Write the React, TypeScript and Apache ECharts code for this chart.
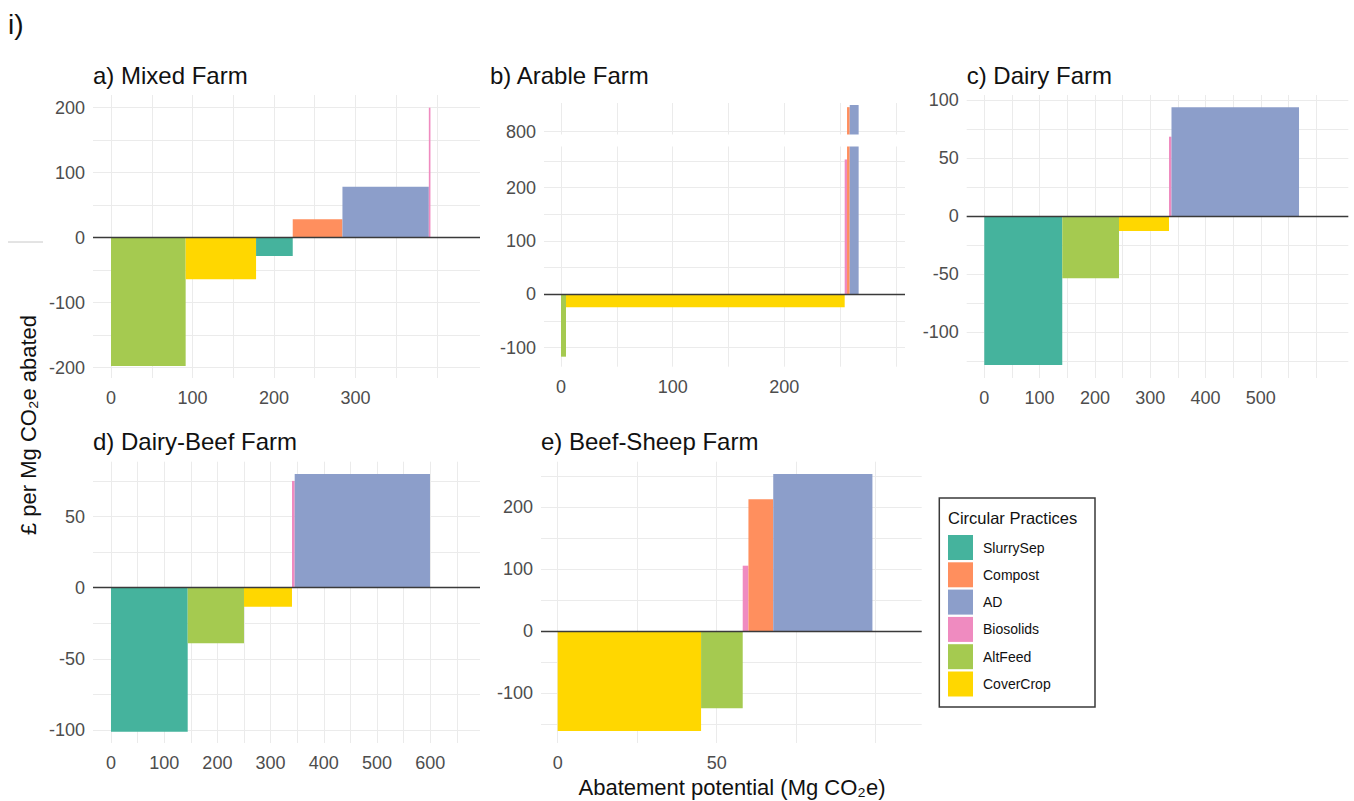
import React, { useEffect, useRef } from 'react';
import * as echarts from 'echarts';

const FONT = "'Liberation Sans', Arial, Helvetica, sans-serif";

// Practice legend order and colours
const PRACTICES = ['SlurrySep', 'Compost', 'AD', 'Biosolids', 'AltFeed', 'CoverCrop'];
const PRACTICE_COLORS = ['#45B39D', '#FF8F5E', '#8C9ECA', '#EF8BC0', '#A5CA50', '#FFD700'];

// a) Mixed Farm
const mixedPractices = ['AltFeed', 'CoverCrop', 'SlurrySep', 'Compost', 'AD', 'Biosolids'];
const mixedWidths = [91.6, 86.4, 45, 61, 106, 2];
const mixedCosts = [-197.4, -64, -28.2, 28.3, 78.5, 200];

// b) Arable Farm
const arablePractices = ['AltFeed', 'CoverCrop', 'Biosolids', 'Compost', 'AD'];
const arableWidths = [4.5, 249.5, 2.1, 2.4, 8];
const arableCosts = [-117, -24.4, 253, 846, 850];

// c) Dairy Farm
const dairyPractices = ['SlurrySep', 'AltFeed', 'CoverCrop', 'Biosolids', 'AD'];
const dairyWidths = [141, 102.6, 90.4, 4.5, 230.6];
const dairyCosts = [-128.3, -53.6, -12.9, 68.3, 93.6];

// d) Dairy-Beef Farm
const dairyBeefPractices = ['SlurrySep', 'AltFeed', 'CoverCrop', 'Biosolids', 'AD'];
const dairyBeefWidths = [144.2, 105.8, 90.2, 5.1, 254.3];
const dairyBeefCosts = [-101.2, -39, -13.4, 75, 79.9];

// e) Beef-Sheep Farm
const beefSheepPractices = ['CoverCrop', 'AltFeed', 'Biosolids', 'Compost', 'AD'];
const beefSheepWidths = [45.1, 13.1, 1.8, 7.8, 31.2];
const beefSheepCosts = [-161.3, -124.7, 105.3, 212.4, 253.2];

// tick labels and grid lines
const mixedXLabels = [0, 100, 200, 300];
const mixedXGrid = [0, 50, 100, 150, 200, 250, 300, 350, 400];
const mixedYLabels = [-200, -100, 0, 100, 200];
const mixedYGrid = [-200, -150, -100, -50, 0, 50, 100, 150, 200];

const arableXLabels = [0, 100, 200];
const arableXGrid = [0, 50, 100, 150, 200, 250, 300];
const arableYLabels = [-100, 0, 100, 200];
const arableYGrid = [-100, -50, 0, 50, 100, 150, 200, 250];
const arableUpperYLabels = [800];
const arableUpperYGrid = [800];

const dairyXLabels = [0, 100, 200, 300, 400, 500];
const dairyXGrid = [0, 50, 100, 150, 200, 250, 300, 350, 400, 450, 500, 550, 600];
const dairyYLabels = [-100, -50, 0, 50, 100];
const dairyYGrid = [-125, -100, -75, -50, -25, 0, 25, 50, 75, 100];

const dairyBeefXLabels = [0, 100, 200, 300, 400, 500, 600];
const dairyBeefXGrid = [0, 50, 100, 150, 200, 250, 300, 350, 400, 450, 500, 550, 600, 650];
const dairyBeefYLabels = [-100, -50, 0, 50];
const dairyBeefYGrid = [-100, -75, -50, -25, 0, 25, 50, 75];

const beefSheepXLabels = [0, 50];
const beefSheepXGrid = [0, 25, 50, 75, 100];
const beefSheepYLabels = [-100, 0, 100, 200];
const beefSheepYGrid = [-150, -100, -50, 0, 50, 100, 150, 200, 250];

type Panel = {
  title?: string;
  titlePos?: [number, number];
  practices: string[];
  widths: number[];
  costs: number[];
  box: { left: number; top: number; width: number; height: number };
  xRange: [number, number];
  yRange: [number, number];
  xLabels: number[];
  xGrid: number[];
  yLabels: number[];
  yGrid: number[];
  showXLabels: boolean;
  zeroLine: boolean;
};

const panels: Panel[] = [
  {
    title: 'a) Mixed Farm', titlePos: [93, 75],
    practices: mixedPractices, widths: mixedWidths, costs: mixedCosts,
    box: { left: 93, top: 95, width: 387, height: 283 },
    xRange: [-22.1, 452.8], yRange: [-215.8, 219.5],
    xLabels: mixedXLabels, xGrid: mixedXGrid, yLabels: mixedYLabels, yGrid: mixedYGrid,
    showXLabels: true, zeroLine: true,
  },
  {
    practices: arablePractices, widths: arableWidths, costs: arableCosts,
    box: { left: 544, top: 103, width: 361, height: 31.5 },
    xRange: [-15.2, 308], yRange: [794.7, 853.8],
    xLabels: arableXLabels, xGrid: arableXGrid, yLabels: arableUpperYLabels, yGrid: arableUpperYGrid,
    showXLabels: false, zeroLine: false,
  },
  {
    title: 'b) Arable Farm', titlePos: [490, 75],
    practices: arablePractices, widths: arableWidths, costs: arableCosts,
    box: { left: 544, top: 146.5, width: 361, height: 220.2 },
    xRange: [-15.2, 308], yRange: [-135.8, 277.3],
    xLabels: arableXLabels, xGrid: arableXGrid, yLabels: arableYLabels, yGrid: arableYGrid,
    showXLabels: true, zeroLine: true,
  },
  {
    title: 'c) Dairy Farm', titlePos: [966.7, 75],
    practices: dairyPractices, widths: dairyWidths, costs: dairyCosts,
    box: { left: 966.7, top: 95, width: 381.6, height: 283 },
    xRange: [-31.8, 658.2], yRange: [-139.5, 104.2],
    xLabels: dairyXLabels, xGrid: dairyXGrid, yLabels: dairyYLabels, yGrid: dairyYGrid,
    showXLabels: true, zeroLine: true,
  },
  {
    title: 'd) Dairy-Beef Farm', titlePos: [93, 441.7],
    practices: dairyBeefPractices, widths: dairyBeefWidths, costs: dairyBeefCosts,
    box: { left: 93, top: 461.7, width: 387, height: 281.3 },
    xRange: [-33.8, 693.6], yRange: [-109.1, 88.5],
    xLabels: dairyBeefXLabels, xGrid: dairyBeefXGrid, yLabels: dairyBeefYLabels, yGrid: dairyBeefYGrid,
    showXLabels: true, zeroLine: true,
  },
  {
    title: 'e) Beef-Sheep Farm', titlePos: [541, 441.7],
    practices: beefSheepPractices, widths: beefSheepWidths, costs: beefSheepCosts,
    box: { left: 541, top: 461.7, width: 380.7, height: 281.3 },
    xRange: [-5.25, 114.5], yRange: [-180.6, 273],
    xLabels: beefSheepXLabels, xGrid: beefSheepXGrid, yLabels: beefSheepYLabels, yGrid: beefSheepYGrid,
    showXLabels: true, zeroLine: true,
  },
];

function makeRenderItem(color: string) {
  return (params: any, api: any) => {
    const x0 = api.value(0);
    const x1 = api.value(1);
    const v = api.value(2);
    const p0 = api.coord([x0, 0]);
    const p1 = api.coord([x1, v]);
    const cs = params.coordSys;
    const rect = echarts.graphic.clipRectByRect(
      {
        x: Math.min(p0[0], p1[0]),
        y: Math.min(p0[1], p1[1]),
        width: Math.abs(p1[0] - p0[0]),
        height: Math.abs(p1[1] - p0[1]),
      },
      { x: cs.x, y: cs.y, width: cs.width, height: cs.height }
    );
    if (!rect) return null;
    return { type: 'rect', shape: rect, style: { fill: color } };
  };
}

function buildOption() {
  const grid: any[] = [];
  const xAxis: any[] = [];
  const yAxis: any[] = [];
  const series: any[] = [];
  const graphic: any[] = [];

  panels.forEach((p, i) => {
    grid.push({ ...p.box });
    xAxis.push({
      type: 'value', gridIndex: i, min: p.xRange[0], max: p.xRange[1],
      axisLine: { show: false },
      axisTick: { show: false, customValues: p.xGrid },
      axisLabel: {
        show: p.showXLabels, customValues: p.xLabels, margin: 11,
        color: '#4D4D4D', fontSize: 18, fontFamily: FONT,
      },
      splitLine: { show: true, lineStyle: { color: '#EBEBEB', width: 1 } },
    });
    yAxis.push({
      type: 'value', gridIndex: i, min: p.yRange[0], max: p.yRange[1],
      axisLine: { show: false },
      axisTick: { show: false, customValues: p.yGrid },
      axisLabel: {
        show: true, customValues: p.yLabels, margin: 8,
        color: '#4D4D4D', fontSize: 18, fontFamily: FONT,
      },
      splitLine: { show: true, lineStyle: { color: '#EBEBEB', width: 1 } },
    });
    let start = 0;
    p.practices.forEach((name, j) => {
      const end = start + p.widths[j];
      const color = PRACTICE_COLORS[PRACTICES.indexOf(name)];
      const s: any = {
        type: 'custom', name, xAxisIndex: i, yAxisIndex: i,
        itemStyle: { color },
        encode: { x: [0, 1], y: 2 },
        data: [[start, end, p.costs[j]]],
        renderItem: makeRenderItem(color),
        silent: true,
        z: 2,
      };
      series.push(s);
      start = end;
    });
    if (p.zeroLine) {
      series.push({
        type: 'custom', name: 'zero', xAxisIndex: i, yAxisIndex: i,
        data: [], renderItem: () => null, z: 5,
        markLine: {
          silent: true, symbol: ['none', 'none'], label: { show: false },
          lineStyle: { color: '#3A3A3A', width: 1.3, type: 'solid' },
          data: [{ yAxis: 0 }], animation: false, z: 5,
        },
      });
    }
    if (p.title && p.titlePos) {
      graphic.push({
        type: 'text', x: p.titlePos[0], y: p.titlePos[1],
        style: {
          text: p.title, fontSize: 24, fontFamily: FONT, fill: '#111111',
          textAlign: 'left', textVerticalAlign: 'middle',
        },
      });
    }
  });

  graphic.push(
    {
      type: 'text', x: 8, y: 24,
      style: { text: 'i)', fontSize: 28, fontFamily: FONT, fill: '#111111', textVerticalAlign: 'middle' },
    },
    {
      type: 'line', shape: { x1: 8, y1: 242, x2: 43, y2: 242 },
      style: { stroke: '#C8C8C8', lineWidth: 1 },
    },
    {
      type: 'text', x: 28, y: 425, rotation: Math.PI / 2,
      style: {
        text: '£ per Mg CO₂e abated', fontSize: 22, fontFamily: FONT, fill: '#111111',
        textAlign: 'center', textVerticalAlign: 'middle',
      },
    },
    {
      type: 'text', x: 732, y: 787,
      style: {
        text: 'Abatement potential (Mg CO₂e)', fontSize: 22, fontFamily: FONT, fill: '#111111',
        textAlign: 'center', textVerticalAlign: 'middle',
      },
    },
    {
      type: 'rect', shape: { x: 939.3, y: 498, width: 155.7, height: 209 },
      style: { fill: '#FFFFFF', stroke: '#3A3A3A', lineWidth: 1.5 }, z: -1,
    },
    {
      type: 'text', x: 948, y: 518,
      style: {
        text: 'Circular Practices', fontSize: 16.5, fontFamily: FONT, fill: '#111111',
        textAlign: 'left', textVerticalAlign: 'middle',
      },
    }
  );

  return {
    animation: false,
    backgroundColor: '#FFFFFF',
    grid, xAxis, yAxis, series, graphic,
    legend: {
      data: PRACTICES,
      orient: 'vertical', left: 948, top: 535, padding: 0,
      itemWidth: 25, itemHeight: 25, itemGap: 2.3, icon: 'rect',
      selectedMode: false,
      textStyle: { fontSize: 14, color: '#111111', fontFamily: FONT, padding: [0, 0, 0, 5] },
      z: 10,
    },
  };
}

export default function App() {
  const ref = useRef<HTMLDivElement>(null);
  useEffect(() => {
    document.body.style.margin = '0';
    if (!ref.current) return;
    const chart = echarts.init(ref.current, undefined, { renderer: 'svg' });
    chart.setOption(buildOption() as any);
    return () => chart.dispose();
  }, []);
  return <div ref={ref} style={{ width: 1354, height: 801 }} />;
}
